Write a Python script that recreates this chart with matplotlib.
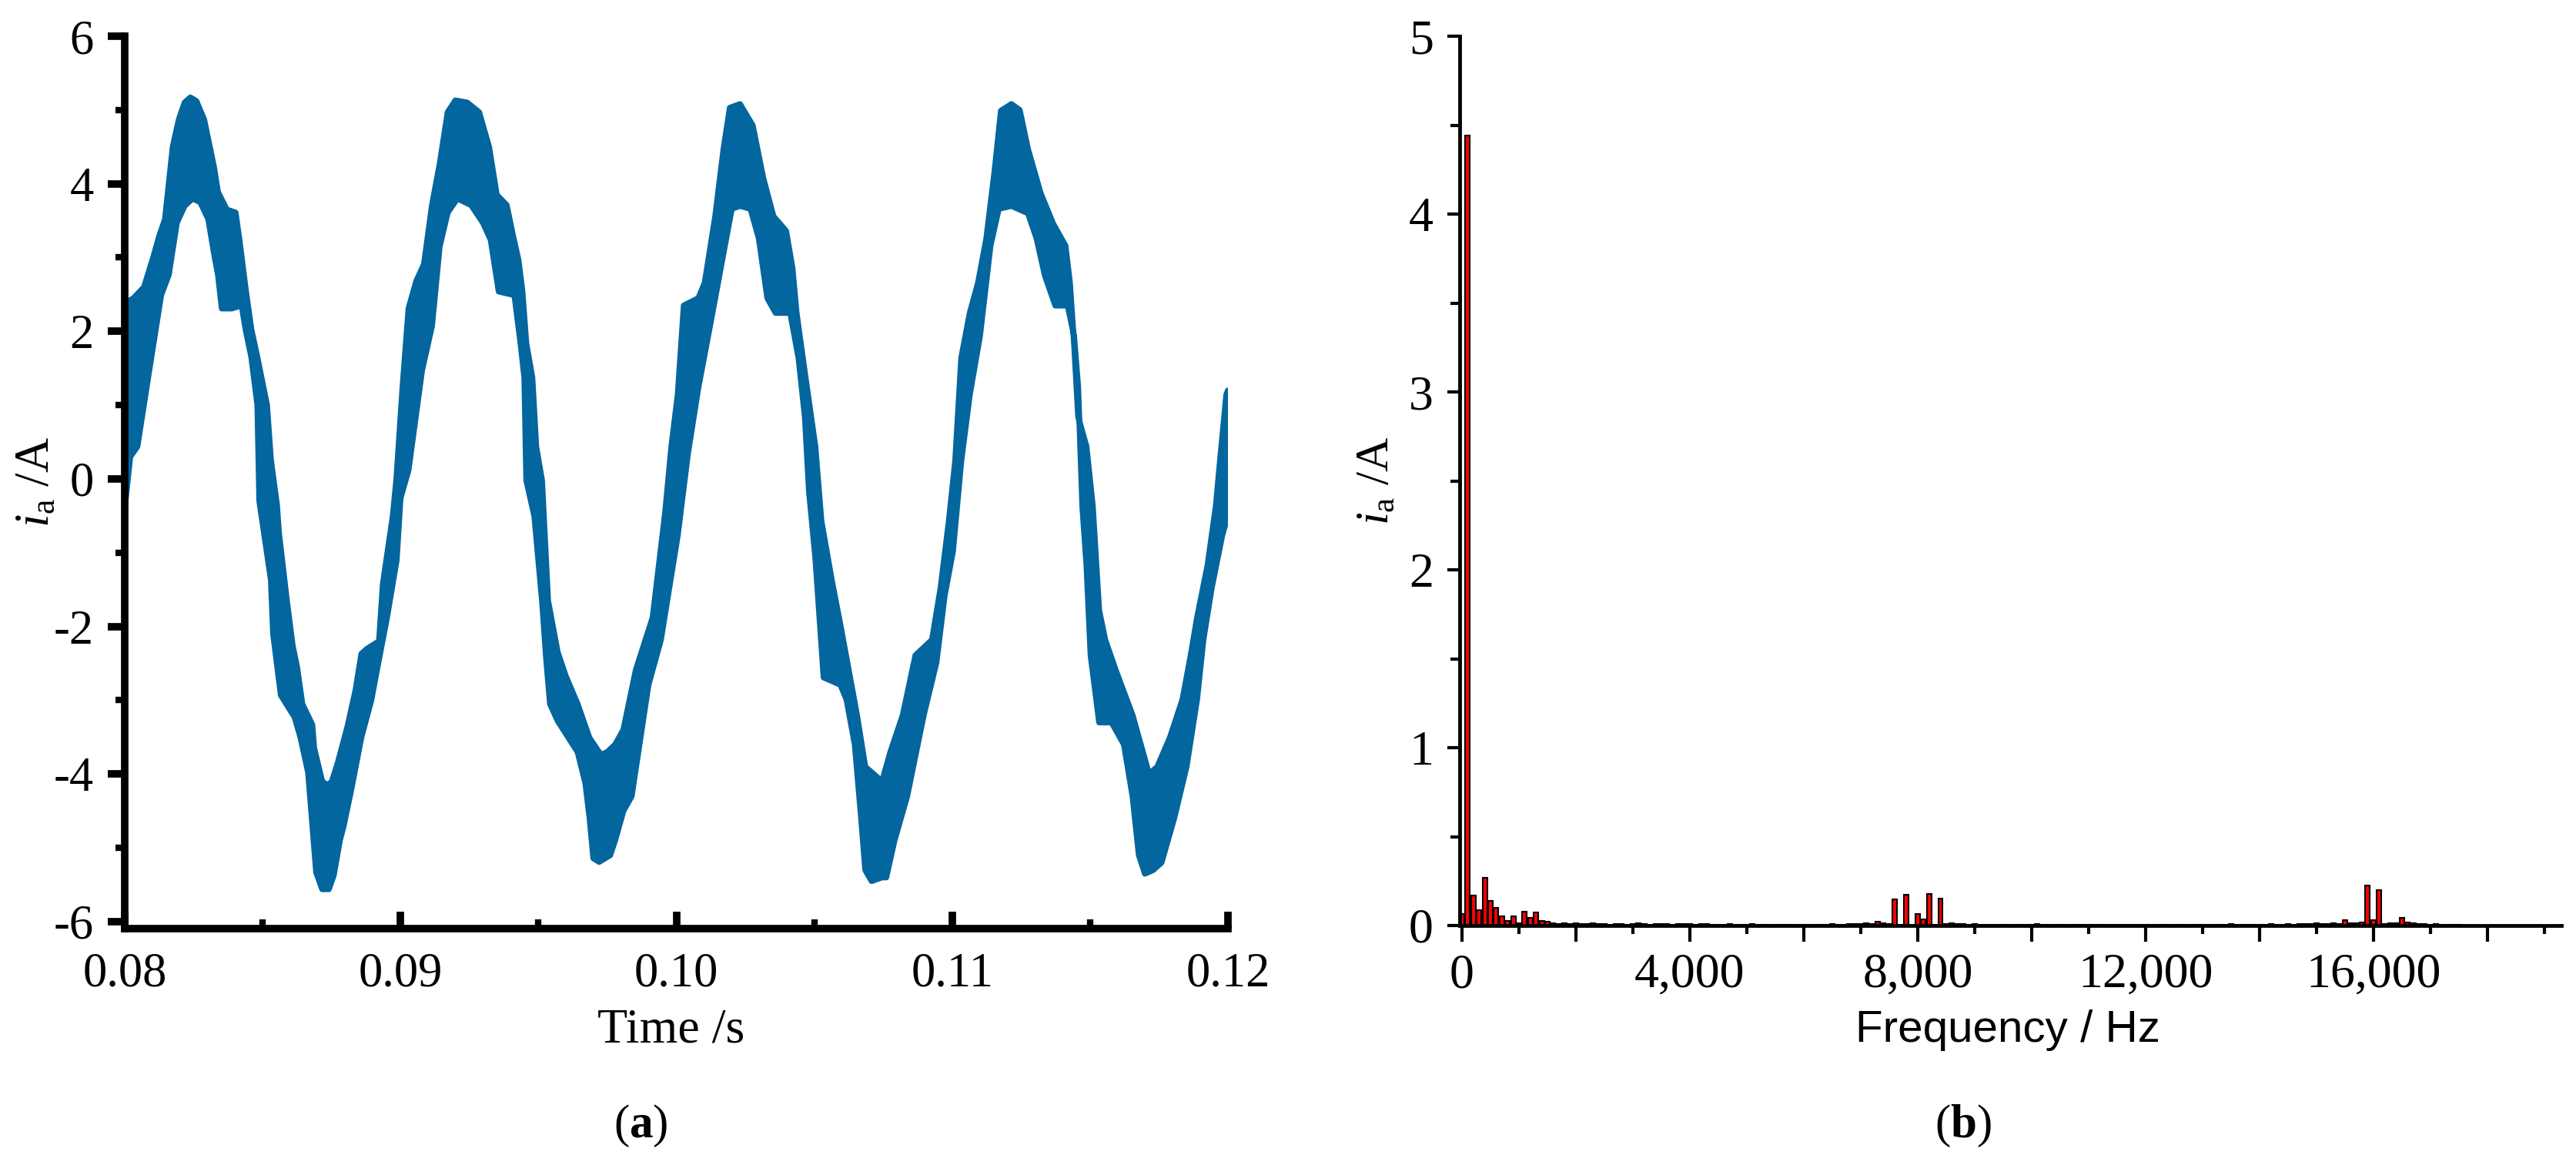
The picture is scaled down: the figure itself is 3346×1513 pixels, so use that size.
import numpy as np
import matplotlib
matplotlib.use("Agg")
import matplotlib.pyplot as plt
from matplotlib.ticker import MultipleLocator, FuncFormatter

plt.rcParams['mathtext.fontset'] = 'custom'
plt.rcParams['mathtext.rm'] = 'Liberation Serif'
plt.rcParams['mathtext.it'] = 'Liberation Serif:italic'
plt.rcParams['mathtext.bf'] = 'Liberation Serif:bold'

# ---------------- (a) phase current waveform: upper / lower envelope (time in ms) -------------
upper_t_ms = [80.00, 80.10, 80.32, 80.70, 81.03, 81.25, 81.46, 81.74, 81.96, 82.17, 82.38, 82.60,
              82.88, 83.24, 83.38, 83.70, 84.02, 84.16, 84.38, 84.59, 84.81, 85.16, 85.30, 85.52,
              85.59, 85.88, 86.09, 86.25, 86.44, 86.80, 86.87, 87.16, 87.35, 87.51, 87.73, 88.08,
              88.37, 88.58, 88.79, 89.22, 89.36, 89.72, 89.85, 90.07, 90.29, 90.57, 90.85, 91.14,
              91.42, 91.71, 91.99, 92.42, 92.85, 93.21, 93.49, 93.85, 94.06, 94.28, 94.42, 94.56,
              94.78, 94.92, 95.13, 95.35, 95.70, 95.99, 96.42, 96.85, 97.27, 97.50, 97.78, 98.08,
              98.53, 99.14, 99.59, 99.82, 100.05, 100.27, 100.80, 101.03, 101.41, 101.71, 101.94,
              102.31, 102.77, 103.15, 103.52, 103.98, 104.21, 104.36, 104.66, 105.04, 105.26,
              105.64, 105.95, 106.25, 106.55, 106.85, 107.46, 107.76, 108.21, 108.67, 109.27,
              109.58, 109.88, 110.11, 110.33, 110.64, 110.94, 111.24, 111.54, 111.77, 112.15,
              112.45, 112.75, 113.21, 113.66, 114.11, 114.27, 114.42, 114.57, 114.87, 115.10,
              115.33, 115.55, 115.93, 116.54, 117.14, 117.44, 117.90, 118.35, 118.65, 118.88,
              119.26, 119.56, 119.71, 119.94, 120.00]
upper_v = [1.6, 2.4, 2.45, 2.6, 3.0, 3.29, 3.52, 4.5, 4.87, 5.1, 5.17, 5.12,
           4.87, 4.22, 3.89, 3.65, 3.61, 3.24, 2.59, 2.03, 1.65, 1.0, 0.26, -0.35,
           -0.72, -1.65, -2.26, -2.55, -3.05, -3.33, -3.65, -4.1, -4.15, -4.1, -3.84, -3.35,
           -2.86, -2.37, -2.3, -2.2, -1.42, -0.5, 0.0, 1.23, 2.31, 2.68, 2.91, 3.71,
           4.27, 4.97, 5.13, 5.1, 4.97, 4.5, 3.85, 3.71, 3.33, 2.96, 2.54, 1.84,
           1.37, 0.44, -0.02, -1.65, -2.35, -2.67, -3.05, -3.51, -3.74, -3.7, -3.6, -3.4,
           -2.59, -1.88, -0.47, 0.44, 1.14, 2.35, 2.45, 2.66, 3.56, 4.47, 5.03,
           5.08, 4.79, 4.08, 3.56, 3.36, 2.86, 2.25, 1.44, 0.44, -0.57,
           -1.38, -1.98, -2.59, -3.2, -3.9, -4.1, -3.7, -3.2, -2.39, -2.18,
           -1.48, -0.57, 0.24, 1.64, 2.25, 2.66, 3.26, 4.18, 4.99, 5.08,
           5.0, 4.47, 3.87, 3.46, 3.16, 2.66, 1.84, 0.84, 0.44, -0.37,
           -1.78, -2.18, -2.59, -3.2, -4.0, -3.9, -3.5, -2.99, -2.39, -1.88,
           -1.17, -0.37, 0.24, 1.14, 1.2]

lower_t_ms = [80.00, 80.20, 80.46, 80.89, 81.32, 81.60, 81.89, 82.17, 82.46, 82.74, 83.03, 83.24,
              83.38, 83.52, 83.88, 84.24, 84.38, 84.59, 84.81, 84.88, 85.30, 85.38, 85.66, 86.16,
              86.37, 86.65, 86.73, 86.94, 87.16, 87.40, 87.58, 87.80, 87.94, 88.22, 88.58, 88.94,
              89.15, 89.51, 89.86, 90.00, 90.29, 90.78, 91.14, 91.42, 91.71, 92.06, 92.56, 92.99,
              93.27, 93.56, 94.13, 94.35, 94.49, 94.56, 94.85, 95.13, 95.28, 95.42, 95.70, 96.42,
              96.70, 96.85, 96.99, 97.20, 97.60, 97.78, 98.08, 98.38, 98.99, 99.44, 100.05, 100.42,
              100.80, 101.26, 101.71, 102.01, 102.31, 102.69, 102.99, 103.30, 103.60, 104.13,
              104.43, 104.66, 104.81, 105.04, 105.34, 105.95, 106.17, 106.47, 106.70, 106.85,
              107.08, 107.46, 107.61, 107.91, 108.37, 108.97, 109.43, 109.73, 110.03, 110.33,
              110.64, 111.01, 111.39, 111.69, 112.15, 112.75, 113.06, 113.36, 113.74, 114.19,
              114.42, 114.57, 114.72, 114.87, 115.02, 115.33, 115.78, 116.23, 116.54, 116.77,
              116.99, 117.29, 117.59, 118.05, 118.50, 118.88, 119.11, 119.41, 119.79, 119.94, 120.00]
lower_v = [-0.4, 0.3, 0.44, 1.47, 2.49, 2.77, 3.47, 3.7, 3.8, 3.75, 3.52, 3.05,
           2.77, 2.31, 2.31, 2.35, 2.03, 1.65, 1.0, -0.3, -1.37, -2.1, -2.93, -3.23,
           -3.5, -3.98, -4.35, -5.33, -5.56, -5.56, -5.37, -4.9, -4.7, -4.2, -3.5, -3.0,
           -2.58, -1.88, -1.1, -0.26, 0.12, 1.47, 2.07, 3.15, 3.61, 3.8, 3.71, 3.47,
           3.24, 2.54, 2.49, 1.84, 1.37, -0.02, -0.5, -1.65, -2.44, -3.05, -3.28, -3.7,
           -4.12, -4.58, -5.14, -5.19, -5.1, -4.9, -4.5, -4.3, -2.79, -2.18, -0.77, 0.34,
           1.24, 2.15, 3.06, 3.66, 3.7, 3.66, 3.26, 2.45, 2.25, 2.25,
           1.64, 0.84, -0.17, -1.07, -2.69, -2.79, -2.99, -3.6, -4.6, -5.3,
           -5.45, -5.4, -5.4, -4.9, -4.3, -3.2, -2.49, -1.58, -0.98, 0.24,
           1.14, 1.94, 3.16, 3.66, 3.7, 3.6, 3.26, 2.76, 2.35, 2.35,
           1.94, 1.24, -0.37, -1.17, -2.39, -3.3, -3.3, -3.6, -4.3, -5.1,
           -5.35, -5.3, -5.2, -4.6, -3.9, -2.99, -2.18, -1.48, -0.77, -0.57, 0.2]

# ---------------- (b) harmonic spectrum: amplitude per 100 Hz bin, 0 ... 17500 Hz -------------
bin_width_hz = 100
spectrum_amp = [
    0.065, 4.44, 0.17, 0.088, 0.27, 0.14, 0.10, 0.05, 0.025, 0.054, 0.015, 0.078, 0.044, 0.073, 0.025, 0.022, 0.012, 0.010, 0.012, 0.010,
    0.012, 0.010, 0.008, 0.012, 0.010, 0.008, 0.006, 0.010, 0.008, 0.006, 0.008, 0.012, 0.010, 0.006, 0.008, 0.010, 0.008, 0.006, 0.008, 0.010,
    0.008, 0.006, 0.010, 0.008, 0.006, 0.004, 0.006, 0.008, 0.006, 0.004, 0.006, 0.008, 0.004, 0.006, 0.004, 0.004, 0.006, 0.004, 0.004, 0.006,
    0.004, 0.006, 0.004, 0.004, 0.006, 0.008, 0.004, 0.006, 0.008, 0.010, 0.008, 0.012, 0.010, 0.020, 0.012, 0.010, 0.146, 0.004, 0.175, 0.006,
    0.066, 0.036, 0.178, 0.004, 0.150, 0.010, 0.012, 0.008, 0.010, 0.006, 0.008, 0.004, 0.006, 0.004, 0.004, 0.004, 0.004, 0.004, 0.004, 0.004,
    0.004, 0.008, 0.004, 0.004, 0.006, 0.004, 0.004, 0.004, 0.004, 0.004, 0.004, 0.004, 0.004, 0.004, 0.004, 0.004, 0.004, 0.004, 0.004, 0.004,
    0.004, 0.004, 0.004, 0.004, 0.004, 0.004, 0.004, 0.004, 0.004, 0.004, 0.004, 0.004, 0.004, 0.004, 0.004, 0.008, 0.004, 0.004, 0.004, 0.004,
    0.004, 0.004, 0.010, 0.004, 0.006, 0.008, 0.004, 0.010, 0.008, 0.010, 0.012, 0.010, 0.008, 0.012, 0.010, 0.030, 0.012, 0.014, 0.016, 0.224,
    0.030, 0.198, 0.010, 0.012, 0.014, 0.043, 0.016, 0.012, 0.010, 0.008, 0.006, 0.008, 0.004, 0.006, 0.004, 0.004,
]

x_ticks_a = [0.08, 0.09, 0.10, 0.11, 0.12]
y_ticks_a = [-6, -4, -2, 0, 2, 4, 6]
y_ticks_b = [0, 1, 2, 3, 4, 5]

BLUE = '#03669E'
SERIF = 'Liberation Serif'

W, H = 3346, 1513
fig = plt.figure(figsize=(W / 100, H / 100), dpi=100)

# ================= panel (a) =================
axA = fig.add_axes([162 / W, 1 - 1206 / H, (1595 - 162) / W, (1206 - 47) / H])
ut = np.array(upper_t_ms) / 1000.0
lt = np.array(lower_t_ms) / 1000.0
px = np.concatenate([ut, lt[::-1]])
py = np.concatenate([np.array(upper_v), np.array(lower_v)[::-1]])
axA.fill(px, py, facecolor=BLUE, edgecolor=BLUE, linewidth=5.5, joinstyle='round',
         zorder=2, clip_on=True)

axA.set_xlim(0.08, 0.12)
axA.set_ylim(-6.094, 6)
for s in ['top', 'right']:
    axA.spines[s].set_visible(False)
for s in ['left', 'bottom']:
    axA.spines[s].set_linewidth(7)
    axA.spines[s].set_zorder(3)
axA.set_xticks(x_ticks_a)
axA.xaxis.set_minor_locator(MultipleLocator(0.005))
axA.set_yticks(y_ticks_a)
axA.yaxis.set_minor_locator(MultipleLocator(1))
axA.xaxis.set_major_formatter(FuncFormatter(lambda v, p: f"{v:.2f}"))
axA.yaxis.set_major_formatter(FuncFormatter(lambda v, p: f"{int(round(v))}"))
axA.tick_params(axis='x', which='major', direction='in', length=16, width=7, pad=22,
                labelsize=45, labelfontfamily=SERIF)
axA.tick_params(axis='x', which='minor', direction='in', length=9, width=6)
axA.tick_params(axis='y', which='major', direction='out', length=16, width=7, pad=13,
                labelsize=45, labelfontfamily=SERIF)
axA.tick_params(axis='y', which='minor', direction='out', length=9, width=6)

axA.set_ylabel(r'$\mathit{i}_{\mathrm{a}}$ /A', fontsize=45, family=SERIF)
axA.yaxis.label.set_va('center')
axA.yaxis.set_label_coords((48 - 162) / 1433, 0.5)
axA.set_xlabel('Time /s', fontsize=46, family=SERIF)
axA.xaxis.label.set_va('center')
axA.xaxis.set_label_coords((872 - 162) / 1433, -(1338 - 1206) / 1159)

# ================= panel (b) =================
axB = fig.add_axes([1896 / W, 1 - 1202 / H, (3327 - 1896) / W, 1155 / H])
freqs = np.arange(len(spectrum_amp)) * bin_width_hz
axB.bar(freqs, spectrum_amp, width=80, color='#FF0000', edgecolor='black',
        linewidth=1.5, zorder=2)
axB.set_xlim(-40, 19300)
axB.set_ylim(0, 5)
for s in ['top', 'right']:
    axB.spines[s].set_visible(False)
for s in ['left', 'bottom']:
    axB.spines[s].set_linewidth(3.5)
axB.xaxis.set_major_locator(MultipleLocator(2000))
axB.xaxis.set_minor_locator(MultipleLocator(1000))
axB.xaxis.set_major_formatter(FuncFormatter(
    lambda v, p: (f"{int(round(v)):,}" if int(round(v)) % 4000 == 0 else '')))
axB.set_yticks(y_ticks_b)
axB.yaxis.set_minor_locator(MultipleLocator(0.5))
axB.yaxis.set_major_formatter(FuncFormatter(lambda v, p: f"{int(round(v))}"))
axB.tick_params(axis='x', which='major', direction='out', length=15, width=3, pad=11,
                labelsize=46, labelfontfamily=SERIF)
axB.tick_params(axis='x', which='minor', direction='out', length=8, width=3)
axB.tick_params(axis='y', which='major', direction='out', length=11.5, width=3, pad=13,
                labelsize=46, labelfontfamily=SERIF)
axB.tick_params(axis='y', which='minor', direction='out', length=9, width=3)

axB.set_ylabel(r'$\mathit{i}_{\mathrm{a}}$ /A', fontsize=44, family=SERIF)
axB.yaxis.label.set_va('center')
axB.yaxis.set_label_coords((1788 - 1896) / 1431, 0.5)
axB.set_xlabel('Frequency / Hz', fontsize=42, family='Liberation Sans')
axB.xaxis.label.set_va('center')
axB.xaxis.set_label_coords((2608 - 1896) / 1431, -(1338 - 1202) / 1155)

# ================= sub-figure captions =================
fig.text(832 / W, 1 - 1462 / H, r'($\mathbf{a}$)', fontsize=44, family=SERIF,
         ha='center', va='center')
fig.text(2550 / W, 1 - 1462 / H, r'($\mathbf{b}$)', fontsize=44, family=SERIF,
         ha='center', va='center')

fig.savefig('out.png', dpi=100, facecolor='white')
